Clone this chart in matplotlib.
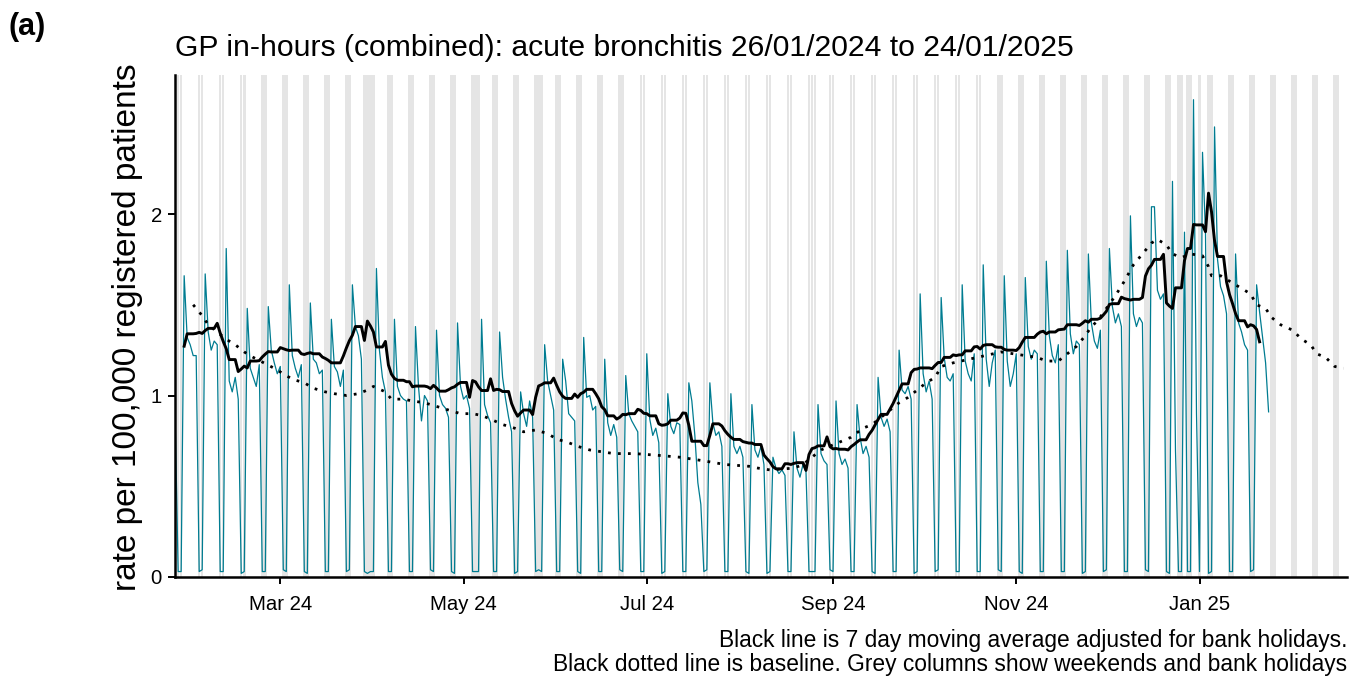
import matplotlib
matplotlib.use("Agg")
import matplotlib.dates as mdates
import matplotlib.pyplot as plt
import numpy as np
import pandas as pd

plt.rcParams["font.family"] = ["Liberation Sans", "DejaVu Sans"]

start = pd.Timestamp("2024-01-26")
end = pd.Timestamp("2025-01-24")
x_end = pd.Timestamp("2025-02-19")

# daily rate, Friday 26/01/2024 then Mon..Fri rows from Monday 29/01/2024
first_friday = 0.88
weekday_rates = [
    [1.66, 1.32, 1.28, 1.22, 1.22],
    [1.67, 1.35, 1.25, 1.30, 1.28],
    [1.81, 1.08, 1.02, 1.10, 0.98],
    [1.48, 1.15, 1.10, 1.05, 1.17],
    [1.49, 1.25, 1.18, 1.12, 1.16],
    [1.61, 1.22, 1.15, 1.10, 1.17],
    [1.51, 1.20, 1.18, 1.12, 1.14],
    [1.42, 1.16, 1.13, 1.05, 1.14],
    [1.61, 1.38, 1.33, 1.20, 0.03],
    [0.03, 1.70, 1.25, 1.10, 1.02],
    [1.42, 1.05, 1.00, 0.98, 0.97],
    [1.38, 1.05, 0.86, 1.00, 0.97],
    [1.36, 1.00, 0.95, 0.93, 0.88],
    [1.40, 1.05, 0.98, 1.00, 0.93],
    [0.03, 1.42, 0.95, 0.89, 0.85],
    [1.35, 1.10, 0.98, 0.88, 0.80],
    [1.02, 0.90, 0.83, 0.97, 0.88],
    [0.03, 1.28, 1.08, 1.00, 0.92],
    [1.20, 1.08, 0.90, 0.88, 0.86],
    [1.32, 0.99, 1.00, 0.92, 0.94],
    [1.20, 0.85, 0.78, 0.84, 0.77],
    [1.11, 0.90, 0.86, 0.83, 0.80],
    [1.23, 0.87, 0.78, 0.82, 0.74],
    [1.01, 0.83, 0.79, 0.85, 0.84],
    [1.07, 0.97, 0.78, 0.52, 0.40],
    [1.07, 0.85, 0.78, 0.80, 0.72],
    [1.01, 0.72, 0.68, 0.72, 0.66],
    [0.95, 0.70, 0.66, 0.72, 0.62],
    [0.66, 0.60, 0.57, 0.59, 0.56],
    [0.80, 0.60, 0.55, 0.62, 0.58],
    [0.03, 0.95, 0.68, 0.64, 0.62],
    [0.97, 0.68, 0.62, 0.65, 0.60],
    [0.95, 0.77, 0.68, 0.72, 0.66],
    [1.10, 0.88, 0.83, 0.87, 0.80],
    [1.25, 1.03, 1.01, 1.05, 0.98],
    [1.56, 1.12, 1.02, 1.08, 0.98],
    [1.54, 1.21, 1.10, 1.08, 1.12],
    [1.61, 1.19, 1.12, 1.08, 1.23],
    [1.72, 1.20, 1.05, 1.18, 1.25],
    [1.66, 1.19, 1.05, 1.12, 1.23],
    [1.65, 1.27, 1.20, 1.25, 1.23],
    [1.74, 1.33, 1.22, 1.18, 1.28],
    [1.80, 1.34, 1.23, 1.30, 1.28],
    [1.78, 1.40, 1.30, 1.26, 1.36],
    [1.81, 1.49, 1.40, 1.45, 1.38],
    [1.99, 1.45, 1.38, 1.43, 1.40],
    [2.04, 2.04, 1.58, 1.53, 1.56],
    [2.18, 0.70, 0.03, 0.03, 1.90],
    [2.63, 0.90, 0.03, 2.34, 1.89],
    [2.48, 1.75, 1.60, 1.55, 1.45],
    [1.78, 1.40, 1.35, 1.28, 1.25],
    [1.61, 1.46, 1.32, 1.18, 0.91],
]
# Sat, Sun pairs: after 26/01/2024, then after each full week
weekend_rates = [
    [0.03, 0.03], [0.03, 0.04], [0.03, 0.03], [0.02, 0.03], [0.03, 0.03],
    [0.04, 0.03], [0.03, 0.02], [0.03, 0.03], [0.03, 0.04], [0.02, 0.03],
    [0.03, 0.03], [0.03, 0.03], [0.04, 0.03], [0.03, 0.02], [0.03, 0.03],
    [0.03, 0.03], [0.02, 0.03], [0.03, 0.04], [0.03, 0.03], [0.03, 0.02],
    [0.03, 0.03], [0.04, 0.03], [0.03, 0.03], [0.02, 0.03], [0.03, 0.03],
    [0.03, 0.04], [0.03, 0.03], [0.03, 0.02], [0.02, 0.03], [0.03, 0.03],
    [0.03, 0.03], [0.04, 0.03], [0.03, 0.03], [0.03, 0.02], [0.03, 0.03],
    [0.02, 0.03], [0.03, 0.04], [0.03, 0.03], [0.03, 0.03], [0.04, 0.03],
    [0.03, 0.02], [0.03, 0.03], [0.03, 0.03], [0.02, 0.03], [0.03, 0.04],
    [0.03, 0.03], [0.04, 0.03], [0.03, 0.02], [0.03, 0.03], [0.02, 0.03],
    [0.03, 0.03], [0.03, 0.04],
]
bank_holidays = ["2024-03-29", "2024-04-01", "2024-05-06", "2024-05-27",
                 "2024-08-26", "2024-12-25", "2024-12-26", "2025-01-01"]

# baseline, days since 26/01/2024
baseline_day = [
    6, 9, 11, 17, 20, 23, 26, 33, 36, 39,
    43, 46, 50, 53, 57, 61, 64, 66, 70, 72,
    76, 79, 83, 87, 91, 95, 99, 102, 105, 109,
    113, 116, 120, 124, 127, 131, 134, 138, 142, 146,
    153, 161, 168, 176, 183, 191, 194, 198, 206, 209,
    215, 225, 229, 232, 235, 241, 244, 247, 250, 253,
    255, 259, 267, 275, 279, 283, 287, 290, 294, 297,
    300, 303, 305, 307, 310, 313, 316, 319, 322, 325,
    327, 330, 332, 335, 338, 342, 344, 345, 348, 351,
    355, 358, 360, 363, 365, 368, 372, 375, 378, 380,
    383, 386, 389,
]
baseline_rate = [
    1.50, 1.44, 1.39, 1.31, 1.28, 1.24, 1.21, 1.15, 1.12, 1.09,
    1.07, 1.04, 1.02, 1.01, 1.00, 1.01, 1.03, 1.05, 1.02, 0.98,
    0.98, 0.97, 0.96, 0.94, 0.92, 0.90, 0.90, 0.89, 0.87, 0.84,
    0.82, 0.80, 0.81, 0.79, 0.76, 0.74, 0.72, 0.70, 0.69, 0.68,
    0.68, 0.67, 0.66, 0.64, 0.62, 0.61, 0.60, 0.59, 0.60, 0.62,
    0.70, 0.77, 0.82, 0.84, 0.88, 0.96, 0.99, 1.03, 1.07, 1.10,
    1.16, 1.18, 1.21, 1.24, 1.23, 1.22, 1.21, 1.19, 1.19, 1.23,
    1.27, 1.33, 1.38, 1.41, 1.48, 1.55, 1.63, 1.72, 1.78, 1.84,
    1.86, 1.83, 1.78, 1.76, 1.78, 1.77, 1.71, 1.66, 1.66, 1.63,
    1.59, 1.56, 1.50, 1.48, 1.43, 1.39, 1.36, 1.31, 1.28, 1.23,
    1.21, 1.16, 1.15,
]

title = "GP in-hours (combined): acute bronchitis 26/01/2024 to 24/01/2025"
caption = ["Black line is 7 day moving average adjusted for bank holidays.",
           "Black dotted line is baseline. Grey columns show weekends and bank holidays"]

# assemble the daily series
rates = [first_friday] + weekend_rates[0]
for k, week in enumerate(weekday_rates):
    rates += week
    if k + 1 < len(weekend_rates):
        rates += weekend_rates[k + 1]
rates = np.array(rates)
dates = pd.date_range(start, end, freq="D")
hols = pd.to_datetime(bank_holidays)
off = np.array([(d.weekday() >= 5) or (d in hols) for d in dates])

# centred 7 day mean, counting working days only
ma = np.array([rates[i - 3:i + 4][~off[i - 3:i + 4]].mean()
               for i in range(3, len(rates) - 3)])
ma_dates = dates[3:len(rates) - 3]
base_dates = start + pd.to_timedelta(baseline_day, unit="D")

fig = plt.figure(figsize=(13.5, 6.77), dpi=100)
ax = fig.add_axes([175 / 1350, 100 / 677, 1172 / 1350, 502 / 677])

grey_days = [d for d in pd.date_range(start - pd.Timedelta(days=1), x_end)
             if d.weekday() >= 5 or d in hols]
for d in grey_days:
    c = mdates.date2num(d)
    ax.axvspan(c - 0.42, c + 0.42, color="#e5e5e5", lw=0, zorder=0)

ax.plot(dates, rates, color="#007c91", lw=0.9, zorder=2)
ax.plot(base_dates, baseline_rate, color="black", lw=2.0,
        linestyle=(0, (1.0, 2.6)), zorder=3)
ax.plot(ma_dates, ma, color="black", lw=2.1, zorder=4)

ax.set_xlim(mdates.date2num(start) - 0.05, mdates.date2num(start) + 390.1)
ax.set_ylim(0, 2.766)
ax.set_yticks([0, 1, 2])
ax.xaxis.set_major_locator(mdates.MonthLocator(bymonth=[1, 3, 5, 7, 9, 11]))
ax.xaxis.set_major_formatter(mdates.DateFormatter("%b %y"))
ax.tick_params(axis="both", length=5, width=1.4, labelsize=14.7, color="black")
ax.tick_params(axis="x", pad=8)
ax.tick_params(axis="y", pad=4.5)
for side in ["top", "right"]:
    ax.spines[side].set_visible(False)
for side in ["left", "bottom"]:
    ax.spines[side].set_linewidth(1.8)

fig.text(175 / 1350, 1 - 56 / 677, title, fontsize=21.7, va="baseline", ha="left")
fig.text(8 / 1350, 1 - 35 / 677, "(a)", fontsize=22, fontweight="bold",
         va="baseline", ha="left")
fig.text(128 / 1350, 1 - 327 / 677, "rate per 100,000 registered patients",
         fontsize=24, rotation=90, ha="center", va="center")
fig.text(1347 / 1350, 1 - 647 / 677, caption[0], fontsize=16.4, ha="right", va="baseline")
fig.text(1347 / 1350, 1 - 671 / 677, caption[1], fontsize=16.4, ha="right", va="baseline")

fig.savefig("out.png", dpi=100)
